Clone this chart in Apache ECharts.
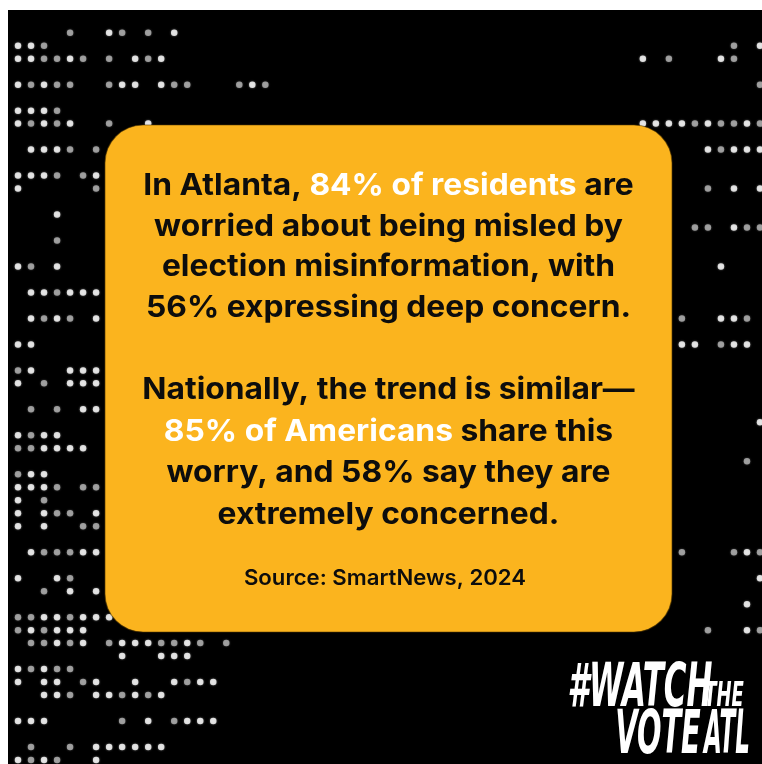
<!DOCTYPE html>
<html>
<head>
<meta charset="utf-8">
<script src="https://cdn.jsdelivr.net/npm/echarts@6/dist/echarts.min.js"></script>
<style>
  html, body { margin: 0; padding: 0; background: #ffffff; }
  #chart { width: 762px; height: 764px; }
</style>
</head>
<body>
<div id="chart"></div>
<script>
// ---- Data ----
// Survey figures (SmartNews, 2024)
const atlantaStats = [84, 56];   // % worried, % deeply concerned (Atlanta)
const nationalStats = [85, 58];  // % worried, % extremely concerned (U.S.)
const sourceLabel = 'Source: SmartNews, 2024';

// Dot-matrix background: [row, white columns, gray columns]
const dotRows = [
  [0,  [7, 12], [4, 8, 10]],
  [1,  [0, 1, 57], [2, 55]],
  [2,  [0, 1, 4, 9, 11, 48, 54], [2, 3, 5, 7, 10, 50, 55]],
  [4,  [0, 2, 8, 9, 11, 18], [1, 3, 4, 7, 12, 13, 17, 19, 57]],
  [6,  [0, 1, 2], [3]],
  [7,  [0, 2, 4, 10, 48, 49, 50, 51, 53, 56], [1, 3, 7, 52, 54, 55, 57]],
  [9,  [1, 2, 3, 53, 55, 56, 57], [4, 6, 54]],
  [11, [0, 1, 2, 6], [3, 5]],
  [12, [0, 55, 57], [6, 53]],
  [14, [3], []],
  [15, [55], [52, 53, 56, 57]],
  [16, [], [3]],
  [18, [0, 3, 54], [1]],
  [20, [1, 2, 4, 5, 6], [3]],
  [22, [1, 3, 6, 54, 55], [2, 4, 51, 56]],
  [24, [0, 1, 51, 52, 55, 56], [54]],
  [26, [1, 4, 5, 6], [0]],
  [27, [0, 4, 5, 6], [2]],
  [29, [5, 6], [1, 3]],
  [30, [57], []],
  [31, [0, 2, 3], [1]],
  [32, [2, 3, 4, 5], [0, 1]],
  [33, [], [56]],
  [34, [1, 2], [0]],
  [35, [0, 1, 2], [3, 5, 6]],
  [36, [0], [2]],
  [37, [0, 2, 6], [3, 4]],
  [38, [0, 2], [5, 6]],
  [40, [1, 5, 6, 56], [2, 3, 4, 51, 55, 57]],
  [42, [0, 3, 57], [4]],
  [43, [4, 6], [2]],
  [44, [56], []],
  [45, [2, 3, 5, 6, 7], [0, 1, 4]],
  [46, [1, 3, 4, 5, 56], [0, 2, 53, 57]],
  [47, [3, 5, 8, 9, 10, 13], [1, 2, 4, 7, 11, 12, 14, 16]],
  [48, [8, 11, 12, 13], []],
  [49, [0, 2], [1, 3, 4]],
  [50, [0, 2, 3, 6, 9, 12, 14, 15], [5, 13]],
  [51, [2, 3, 6, 7, 9, 11], [4, 8, 10]],
  [53, [0, 1, 2, 10, 13, 14, 15], [8, 12]],
  [55, [6, 7, 8, 9, 10, 11], [1, 4]],
  [56, [0, 2, 6], [1, 3]]
];

// ---- Build ----
const whiteDots = [], grayDots = [];
dotRows.forEach(([r, w, g]) => {
  w.forEach(c => whiteDots.push([c, r]));
  g.forEach(c => grayDots.push([c, r]));
});

const bodyLines = [
  'In Atlanta, {w|' + atlantaStats[0] + '% of residents} are',
  'worried about being misled by',
  'election misinformation, with',
  atlantaStats[1] + '% expressing deep concern.',
  'Nationally, the trend is similar\u2014',
  '{w|' + nationalStats[0] + '% of Americans} share this',
  'worry, and ' + nationalStats[1] + '% say they are',
  'extremely concerned.'
];
const lineY = [186, 226.5, 267, 307.5, 390, 431.5, 473, 515];

const FONT = 'Inter, "Noto Sans", sans-serif';
const TXT = '#0d0d0d';

const graphics = [
  // white margins of the original image
  { type: 'rect', shape: { x: 0, y: 0, width: 762, height: 10 }, style: { fill: '#ffffff' }, z: 0 },
  { type: 'rect', shape: { x: 0, y: 0, width: 8, height: 764 }, style: { fill: '#ffffff' }, z: 0 },
  // yellow card
  { type: 'rect', shape: { x: 105, y: 125, width: 567, height: 507, r: 38 },
    style: { fill: '#FBB41E', stroke: 'rgba(90,60,0,0.55)', lineWidth: 1.2 }, z: 10 }
];

bodyLines.forEach((t, i) => {
  graphics.push({
    type: 'text', z: 11, x: 388.5, y: lineY[i], scaleX: 1.06, scaleY: 1,
    style: {
      text: t, x: 0, y: 0,
      align: 'center', verticalAlign: 'middle',
      fill: TXT, fontSize: 30, fontWeight: 'bold', fontFamily: FONT,
      rich: { w: { fill: '#ffffff', fontSize: 30, fontWeight: 'bold', fontFamily: FONT } }
    }
  });
});

graphics.push({
  type: 'text', z: 11, x: 385, y: 579, scaleX: 1.03, scaleY: 1,
  style: {
    text: sourceLabel, x: 0, y: 0, align: 'center', verticalAlign: 'middle',
    fill: TXT, fontSize: 21.5, fontWeight: 600, fontFamily: FONT
  }
});

// logo
const LOGO = '"Liberation Sans Narrow", "DejaVu Sans Condensed", sans-serif';
function logoText(txt, cx, cy, size, sx, sy) {
  return {
    type: 'text', z: 11, x: cx, y: cy, scaleX: sx, scaleY: sy,
    style: {
      text: txt, x: 0, y: 0, align: 'center', verticalAlign: 'middle',
      fill: '#ffffff', fontSize: size, fontWeight: 'bold', fontStyle: 'italic', fontFamily: LOGO
    }
  };
}
graphics.push(logoText('#WATCH', 640, 690, 40, 0.86, 1.5));
graphics.push(logoText('THE', 724, 697, 21, 0.95, 1.6));
graphics.push(logoText('VOTE', 658, 737, 40, 0.8, 1.5));
graphics.push(logoText('ATL', 727, 737, 40, 0.64, 1.5));

const chart = echarts.init(document.getElementById('chart'), null, { renderer: 'canvas' });
chart.setOption({
  backgroundColor: '#000000',
  animation: false,
  grid: { left: 18, right: 2, top: 32.7, bottom: 4, containLabel: false },
  xAxis: { type: 'value', min: 0, max: 57, show: false },
  yAxis: { type: 'value', min: 0, max: 56, inverse: true, show: false },
  series: [
    { type: 'scatter', data: whiteDots, symbolSize: 6.5, silent: true,
      itemStyle: { color: '#ffffff', shadowBlur: 2, shadowColor: 'rgba(255,255,255,0.6)' } },
    { type: 'scatter', data: grayDots, symbolSize: 6.5, silent: true,
      itemStyle: { color: '#b4b4b4', shadowBlur: 2, shadowColor: 'rgba(200,200,200,0.5)' } }
  ],
  graphic: { elements: graphics }
});
</script>
</body>
</html>
